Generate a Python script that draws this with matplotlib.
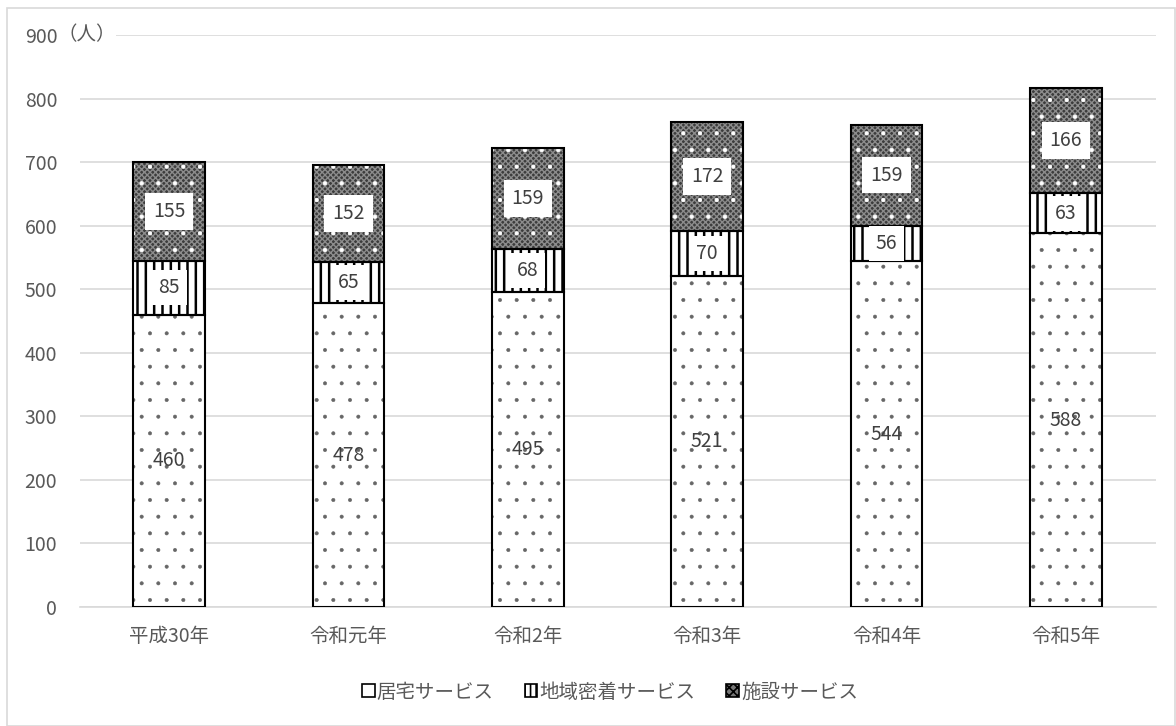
import matplotlib
matplotlib.use("Agg")
import matplotlib.pyplot as plt
from matplotlib.patches import Rectangle, Patch
from matplotlib.transforms import blended_transform_factory
import numpy as np

plt.rcParams['font.family'] = ['Noto Sans CJK JP', 'DejaVu Sans']
plt.rcParams['hatch.linewidth'] = 1.2

years = ['平成30年', '令和元年', '令和2年', '令和3年', '令和4年', '令和5年']
home = [460, 478, 495, 521, 544, 588]
community = [85, 65, 68, 70, 56, 63]
facility = [155, 152, 159, 172, 159, 166]
series_names = ['居宅サービス', '地域密着サービス', '施設サービス']
y_ticks = [0, 100, 200, 300, 400, 500, 600, 700, 800, 900]

TEXT = '#595959'
LABEL = '#404040'
GRID = '#d9d9d9'
FS = 14

fig = plt.figure(figsize=(11.76, 7.26), dpi=100)
ax = fig.add_axes([79.5 / 1176, 119 / 726, 1076 / 1176, 572 / 726])

x = np.arange(len(years))
w = 0.4
home_a = np.array(home)
comm_a = np.array(community)
fac_a = np.array(facility)
bottom_fac = home_a + comm_a


def outline(h, b):
    ax.bar(x, h, w, bottom=b, facecolor='none', edgecolor='black',
           linewidth=1.5, zorder=4)


# 居宅サービス: white with sparse dots
with plt.rc_context({'hatch.linewidth': 0.4}):
    ax.bar(x, home_a, w, facecolor='white', edgecolor='#666666', hatch='.',
           linewidth=0, zorder=3)
outline(home_a, 0)

# 地域密着サービス: vertical stripes
with plt.rc_context({'hatch.linewidth': 1.8}):
    ax.bar(x, comm_a, w, bottom=home_a, facecolor='white', edgecolor='black',
           hatch='||', linewidth=0, zorder=3)
outline(comm_a, home_a)

# 施設サービス: dark fine checker with white dots
with plt.rc_context({'hatch.linewidth': 1.0}):
    ax.bar(x, fac_a, w, bottom=bottom_fac, facecolor='#3c3c3c', edgecolor='#8c8c8c',
           hatch='xxxxxx', linewidth=0, zorder=3)
with plt.rc_context({'hatch.linewidth': 0.6}):
    ax.bar(x, fac_a, w, bottom=bottom_fac, facecolor='none', edgecolor='white',
           hatch='.', linewidth=0, zorder=3)
outline(fac_a, bottom_fac)

# value labels
for i in range(len(years)):
    ax.text(x[i], home_a[i] / 2, str(home[i]), ha='center', va='center',
            fontsize=FS, color=LABEL, zorder=6)
    ax.text(x[i], home_a[i] + comm_a[i] / 2, str(community[i]), ha='center',
            va='center', fontsize=FS, color=LABEL, zorder=6,
            bbox=dict(boxstyle='square,pad=0.35', facecolor='white', edgecolor='none'))
    ax.text(x[i], bottom_fac[i] + fac_a[i] / 2, str(facility[i]), ha='center',
            va='center', fontsize=FS, color=LABEL, zorder=6,
            bbox=dict(boxstyle='square,pad=0.4', facecolor='white', edgecolor='none'))

ax.set_xlim(-0.5, len(years) - 0.5)
ax.set_ylim(0, 900)
ax.set_yticks(y_ticks)
ax.set_xticks(x)
ax.set_xticklabels(years)
ax.tick_params(axis='both', length=0, labelsize=FS, labelcolor=TEXT)
ax.tick_params(axis='y', pad=16)
ax.tick_params(axis='x', pad=14)
ax.yaxis.grid(True, color=GRID, linewidth=1.2, zorder=0)
ax.set_axisbelow(True)
for s in ['top', 'right', 'left']:
    ax.spines[s].set_visible(False)
ax.spines['bottom'].set_color(GRID)
ax.spines['bottom'].set_linewidth(1.2)

# unit label beside the top tick
unit_tr = blended_transform_factory(ax.transAxes, ax.transData)
ax.text(7.5 / 1076, 900, '（人）', ha='center', va='center', fontsize=FS,
        color=TEXT, transform=unit_tr, zorder=5, clip_on=False,
        bbox=dict(boxstyle='square,pad=0.0', facecolor='white', edgecolor='none'))

# legend
h1 = Patch(facecolor='white', edgecolor='black', linewidth=1.2)
with plt.rc_context({'hatch.linewidth': 2.0}):
    h2 = Patch(facecolor='white', edgecolor='black', hatch='|||', linewidth=1.2)
h3 = Patch(facecolor='#777777', edgecolor='black', hatch='xxxx', linewidth=1.2)
fig.legend([h1, h2, h3], series_names, loc='center',
           bbox_to_anchor=(610 / 1176, 1 - 692 / 726),
           ncol=3, frameon=False, fontsize=FS, handlelength=0.65, handleheight=0.65,
           handletextpad=0.1, columnspacing=1.6, labelcolor=TEXT)

# outer frame
fig.patches.append(Rectangle((7 / 1176, 0.5 / 726), 1168 / 1176, 718 / 726,
                             transform=fig.transFigure, facecolor='none',
                             edgecolor=GRID, linewidth=1.2))

fig.savefig('out.png', dpi=100)
